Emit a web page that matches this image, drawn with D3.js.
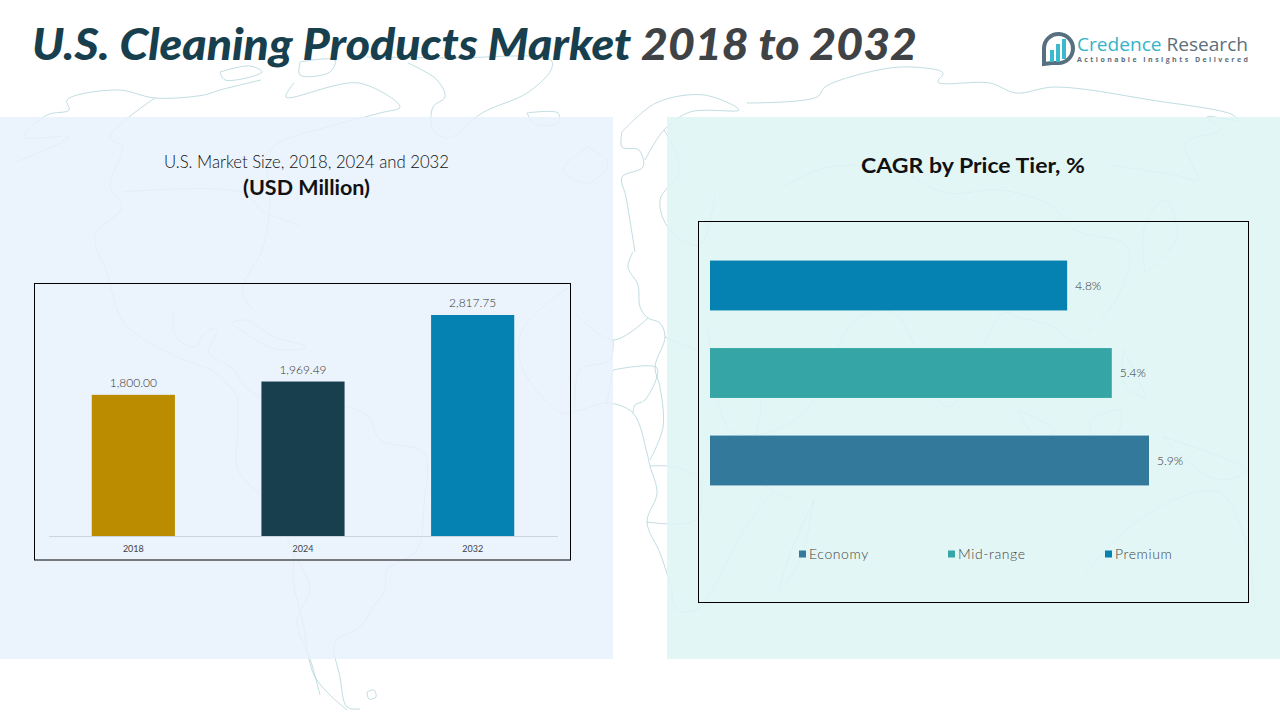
<!DOCTYPE html>
<html>
<head>
<meta charset="utf-8">
<script src="https://cdn.jsdelivr.net/npm/d3@7"></script>
<style>
  html, body { margin: 0; padding: 0; background: #fff; }
  svg { display: block; }
  text { font-family: "Lato", "Open Sans", sans-serif; }
</style>
</head>
<body>
<svg id="plotSVG" width="1280" height="720"></svg>
<script>
// market size chart
const years = ["2018", "2024", "2032"]
const marketSize = [1800.00, 1969.49, 2817.75]
const yearColors = ["#bb8c00", "#173f4e", "#0581b2"]

// cagr chart
const tiers = ["Premium", "Mid-range", "Economy"]
const cagr = [4.8, 5.4, 5.9]
const tierColors = ["#0581b2", "#35a5a5", "#33799b"]
const legendOrder = ["Economy", "Mid-range", "Premium"]

// faint world map behind everything, just decoration
const mapOutlines = [
    [[14,163],[69,137],[24,137],[47,115],[69,110],[67,100],[118,90],[155,98],[204,95],[220,90],[261,80]],
    [[155,98],[110,137],[122,147],[110,187],[122,207],[95,235],[107,273],[122,320],[140,337],[180,358],[216,373],[238,397]],
    [[122,192],[245,193],[261,210],[300,225]],
    [[294,83],[286,97],[359,83],[400,107],[380,113],[327,127],[278,143],[265,157]],
    [[220,72],[250,66],[262,72],[225,80],[220,72]],
    [[300,62],[335,60],[330,72],[300,75],[300,62]],
    [[408,63],[437,80],[445,97],[433,107],[433,130],[449,138],[482,113],[527,93],[551,70],[551,60],[449,58],[367,57]],
    [[527,113],[558,113],[558,123],[535,124],[527,113]],
    [[588,147],[563,170],[588,183],[608,163],[588,147]],
    [[173,313],[176,337],[195,347],[205,333],[218,328],[209,353],[231,367],[253,393],[347,407],[369,417],[380,440],[424,453],[424,503],[417,550],[387,570],[385,590],[373,607],[360,627],[335,642],[340,677],[347,707],[360,709]],
    [[265,157],[270,200],[262,250],[242,290],[253,310]],
    [[231,323],[245,320],[275,337],[307,347],[275,349],[231,323]],
    [[238,397],[238,430],[238,470],[267,503],[293,553],[293,580],[303,623],[315,677],[347,710]],
    [[293,553],[310,590],[297,620],[312,665],[320,695]],
    [[367,692],[374,690],[376,697],[369,699],[367,692]],
    [[569,287],[522,330],[522,367],[562,413],[580,410],[607,403],[633,413],[647,453],[650,466],[657,493],[647,522],[660,553],[670,583],[677,610],[700,608],[712,590],[744,530],[774,490]],
    [[633,252],[628,267],[638,285],[640,307],[648,318],[660,323],[665,337],[655,367],[660,387],[663,427],[650,460]],
    [[575,313],[613,340],[648,318]],
    [[613,340],[610,360],[580,370],[575,410]],
    [[613,370],[657,368],[645,400],[635,405],[633,413]],
    [[613,370],[607,403]],
    [[665,337],[697,350]],
    [[650,466],[675,467],[700,480],[695,520],[647,522]],
    [[622,132],[656,103],[704,95],[739,110],[690,112],[664,130],[645,160]],
    [[622,132],[622,147],[639,150],[643,167],[622,177],[626,197],[635,252]],
    [[664,130],[680,170],[660,200],[670,230],[700,245],[715,195]],
    [[747,103],[817,97],[825,87],[878,70],[912,67],[943,73],[938,82],[990,83],[1016,93],[1055,87],[1151,100],[1233,115],[1237,120],[1207,117],[1220,130],[1185,143],[1198,180],[1175,175],[1110,165]],
    [[782,187],[830,167],[895,170],[947,193],[1000,190],[1050,205],[1075,230],[1123,243],[1130,257],[1114,303],[1090,330],[1075,343],[1054,327],[1017,317],[1003,313],[948,407],[894,313],[855,320],[814,400],[777,430],[730,430],[708,327]],
    [[1145,273],[1177,237],[1165,200],[1145,225],[1145,273]],
    [[1123,350],[1145,397],[1125,385],[1123,350]],
    [[1017,410],[1054,430],[1040,440],[1017,410]],
    [[1090,420],[1120,410],[1115,440],[1095,450],[1090,420]],
    [[1163,437],[1246,470],[1220,480],[1180,455],[1163,437]],
    [[1083,577],[1126,530],[1181,497],[1221,493],[1246,543],[1255,610]],
    [[814,500],[788,560],[780,590],[800,560],[814,500]],
    [[715,340],[760,400],[750,470],[790,500]],
]

let svg = d3.select("#plotSVG")

// map goes first, the panels sit on top of it and wash it out
let mapLine = d3.line().curve(d3.curveCatmullRom.alpha(0.5))
svg.append("g")
    .selectAll("path")
    .data(mapOutlines)
    .join("path")
    .attr("d", d => mapLine(d))
    .attr("fill", "none")
    .attr("stroke", "#a6cdd5")
    .attr("stroke-width", 1)
    .attr("stroke-opacity", 0.7)

svg.append("rect")
    .attr("x", 0).attr("y", 117).attr("width", 613).attr("height", 542)
    .attr("fill", "#e7f1fb").attr("fill-opacity", 0.85)
svg.append("rect")
    .attr("x", 667).attr("y", 117).attr("width", 613).attr("height", 542)
    .attr("fill", "#def4f4").attr("fill-opacity", 0.85)

// page title, stretched a bit to the width of the original
let title = svg.append("text")
    .attr("x", 32)
    .attr("y", 60)
    .attr("textLength", 885)
    .attr("lengthAdjust", "spacingAndGlyphs")
    .style("font-size", "44px")
    .style("font-weight", 900)
    .style("font-style", "italic")
title.append("tspan").attr("fill", "#173f4e").text("U.S. Cleaning Products Market ")
title.append("tspan").attr("fill", "#3f4346").text("2018 to 2032")

// logo
let logo = svg.append("g")
logo.append("path")
    .attr("d", "M1044 64 V48 A14.5 14.5 0 1 1 1058 63 L1052 63 Z")
    .attr("fill", "none")
    .attr("stroke", "#56707f")
    .attr("stroke-width", 4)
logo.selectAll("rect")
    .data([[1050, 50, 4, 12], [1056, 44, 4, 18], [1062, 39, 4, 20]])
    .join("rect")
    .attr("x", d => d[0]).attr("y", d => d[1])
    .attr("width", d => d[2]).attr("height", d => d[3])
    .attr("fill", "#3bb9cf")
let logoText = logo.append("text")
    .attr("x", 1077)
    .attr("y", 51)
    .attr("textLength", 171)
    .attr("lengthAdjust", "spacingAndGlyphs")
    .style("font-family", "Open Sans")
    .style("font-size", "19px")
logoText.append("tspan").attr("fill", "#35b3c9").text("Credence ")
logoText.append("tspan").attr("fill", "#5d6f7a").text("Research")
logo.append("text")
    .attr("x", 1077)
    .attr("y", 62)
    .attr("fill", "#5d6f7a")
    .attr("textLength", 171)
    .style("font-family", "Open Sans")
    .style("font-size", "7px")
    .style("font-weight", 700)
    .text("Actionable Insights Delivered")

// left heading
svg.append("text")
    .attr("x", 306.5).attr("y", 168)
    .attr("text-anchor", "middle")
    .attr("fill", "#111")
    .attr("textLength", 285)
    .attr("lengthAdjust", "spacingAndGlyphs")
    .style("font-size", "17px")
    .style("font-weight", 300)
    .text("U.S. Market Size, 2018, 2024 and 2032")
svg.append("text")
    .attr("x", 306.5).attr("y", 195)
    .attr("text-anchor", "middle")
    .attr("fill", "#111")
    .attr("textLength", 127)
    .attr("lengthAdjust", "spacingAndGlyphs")
    .style("font-size", "20px")
    .style("font-weight", 700)
    .text("(USD Million)")

// right heading
svg.append("text")
    .attr("x", 973).attr("y", 173)
    .attr("text-anchor", "middle")
    .attr("fill", "#111")
    .attr("textLength", 224)
    .attr("lengthAdjust", "spacingAndGlyphs")
    .style("font-size", "21px")
    .style("font-weight", 700)
    .text("CAGR by Price Tier, %")

// chart frames
svg.append("rect")
    .attr("x", 34.5).attr("y", 283.5).attr("width", 536).attr("height", 276.5)
    .attr("fill", "none").attr("stroke", "#000").attr("stroke-width", 1)
svg.append("rect")
    .attr("x", 698.5).attr("y", 221.5).attr("width", 550).attr("height", 381)
    .attr("fill", "none").attr("stroke", "#000").attr("stroke-width", 1)

// ---- market size bars
let xYear = d3.scaleBand()
    .domain(years)
    .range([48.5, 557.5])
    .paddingInner(0.51)
    .paddingOuter(0.255)
let yMarket = d3.scaleLinear()
    .domain([0, 2817.75])
    .range([536, 315])

let xAxisGroup = svg.append("g")
    .attr("transform", "translate(0,536)")
    .call(d3.axisBottom(xYear).tickSize(0).tickPadding(10))
xAxisGroup.select(".domain").attr("stroke", "#ccd6da")
xAxisGroup.selectAll("text")
    .attr("fill", "#444")
    .style("font-size", "9px")
    .style("font-family", "Lato")

svg.selectAll(".year-bar")
    .data(years)
    .join("rect")
    .attr("class", "year-bar")
    .attr("x", d => xYear(d))
    .attr("y", (d, i) => yMarket(marketSize[i]))
    .attr("width", xYear.bandwidth())
    .attr("height", (d, i) => yMarket(0) - yMarket(marketSize[i]))
    .attr("fill", (d, i) => yearColors[i])

svg.selectAll(".year-label")
    .data(years)
    .join("text")
    .attr("class", "year-label")
    .attr("x", d => xYear(d) + xYear.bandwidth() / 2)
    .attr("y", (d, i) => yMarket(marketSize[i]) - 8)
    .attr("text-anchor", "middle")
    .attr("fill", "#333")
    .style("font-size", "12px")
    .style("font-weight", 300)
    .text((d, i) => d3.format(",.2f")(marketSize[i]))

// ---- cagr bars
let xCagr = d3.scaleLinear()
    .domain([0, 5.9])
    .range([710, 1149])
let yTier = d3.scaleBand()
    .domain(tiers)
    .range([241.75, 504.25])
    .paddingInner(0.43)
    .paddingOuter(0.215)

svg.selectAll(".tier-bar")
    .data(tiers)
    .join("rect")
    .attr("class", "tier-bar")
    .attr("x", xCagr(0))
    .attr("y", d => yTier(d))
    .attr("width", (d, i) => xCagr(cagr[i]) - xCagr(0))
    .attr("height", yTier.bandwidth())
    .attr("fill", (d, i) => tierColors[i])

svg.selectAll(".tier-label")
    .data(tiers)
    .join("text")
    .attr("class", "tier-label")
    .attr("x", (d, i) => xCagr(cagr[i]) + 8)
    .attr("y", d => yTier(d) + yTier.bandwidth() / 2 + 4)
    .attr("fill", "#333")
    .style("font-size", "12px")
    .style("font-weight", 300)
    .text((d, i) => cagr[i].toFixed(1) + "%")

// legend
let legendX = d3.scaleOrdinal()
    .domain(legendOrder)
    .range([799, 948, 1105])
let legend = svg.selectAll(".legend-item")
    .data(legendOrder)
    .join("g")
    .attr("class", "legend-item")
    .attr("transform", d => "translate(" + legendX(d) + ",554)")
legend.append("rect")
    .attr("y", -3.5)
    .attr("width", 7)
    .attr("height", 7)
    .attr("fill", d => tierColors[tiers.indexOf(d)])
legend.append("text")
    .attr("x", 10)
    .attr("y", 5)
    .attr("fill", "#444")
    .style("font-size", "14px")
    .style("font-weight", 300)
    .style("letter-spacing", "0.6px")
    .text(d => d)
</script>
</body>
</html>
